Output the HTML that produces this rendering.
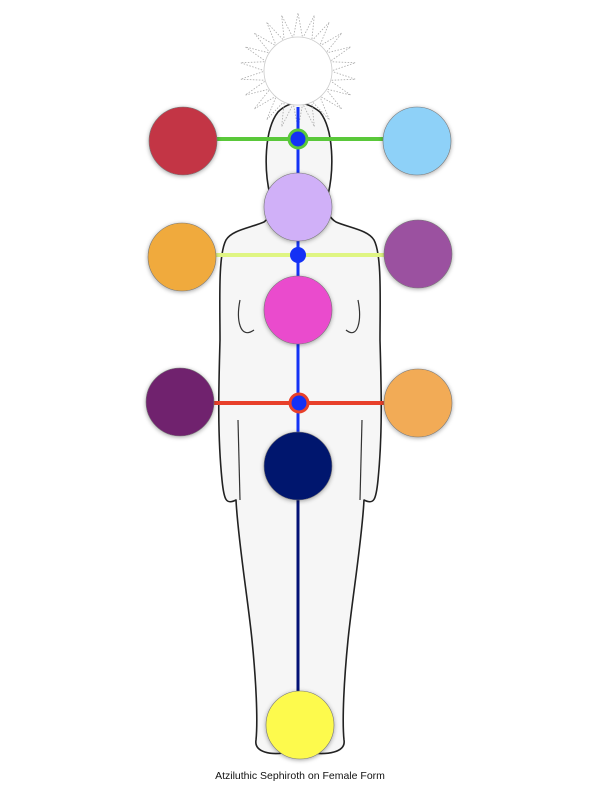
<!DOCTYPE html>
<html><head><style>
html,body{margin:0;padding:0;background:#fff;width:600px;height:800px;overflow:hidden}
</style></head><body>
<svg width="600" height="800" viewBox="0 0 600 800" xmlns="http://www.w3.org/2000/svg">
<defs>
<filter id="sh" x="-30%" y="-30%" width="160%" height="160%"><feDropShadow dx="0" dy="1" stdDeviation="2" flood-opacity="0.35"/></filter>
<path id="ray" d="M293.3,38.3 L298,13 L302.7,38.3" fill="none" stroke="#aaa" stroke-width="0.8" stroke-dasharray="1.5,1.5"/>
</defs>
<!-- body silhouette -->
<g fill="#f6f6f6" stroke="#222" stroke-width="1.6" stroke-linejoin="round">
<path d="M264,222 C250,228 232,230 226,240 C218,255 220,300 220,340 C219,380 217,430 222,480 C224,500 226,505 236,500 C238,540 248,600 252,640 C256,680 258,720 256,740 C254,752 270,756 290,752 L298,700 L306,752 C328,756 346,752 344,740 C342,720 344,680 348,640 C352,600 362,540 364,500 C374,505 376,500 378,480 C383,430 381,380 380,340 C380,300 382,255 374,240 C368,230 350,228 336,222 C326,216 326,205 328,195 C334,170 334,130 320,112 C305,100 290,100 278,112 C264,130 264,170 270,195 C272,205 272,216 264,222 Z"/>
</g>
<g fill="none" stroke="#333" stroke-width="1.2">
<path d="M240,300 C236,320 240,340 254,330"/>
<path d="M358,300 C362,320 358,340 346,330"/>
<path d="M238,420 L240,500"/><path d="M362,420 L360,500"/>
</g>
<!-- sun -->
<g>
<use href="#ray" transform="rotate(0 298 71)"/>
<use href="#ray" transform="rotate(16.36 298 71)"/>
<use href="#ray" transform="rotate(32.73 298 71)"/>
<use href="#ray" transform="rotate(49.09 298 71)"/>
<use href="#ray" transform="rotate(65.45 298 71)"/>
<use href="#ray" transform="rotate(81.82 298 71)"/>
<use href="#ray" transform="rotate(98.18 298 71)"/>
<use href="#ray" transform="rotate(114.55 298 71)"/>
<use href="#ray" transform="rotate(130.91 298 71)"/>
<use href="#ray" transform="rotate(147.27 298 71)"/>
<use href="#ray" transform="rotate(163.64 298 71)"/>
<use href="#ray" transform="rotate(180 298 71)"/>
<use href="#ray" transform="rotate(196.36 298 71)"/>
<use href="#ray" transform="rotate(212.73 298 71)"/>
<use href="#ray" transform="rotate(229.09 298 71)"/>
<use href="#ray" transform="rotate(245.45 298 71)"/>
<use href="#ray" transform="rotate(261.82 298 71)"/>
<use href="#ray" transform="rotate(278.18 298 71)"/>
<use href="#ray" transform="rotate(294.55 298 71)"/>
<use href="#ray" transform="rotate(310.91 298 71)"/>
<use href="#ray" transform="rotate(327.27 298 71)"/>
<use href="#ray" transform="rotate(343.64 298 71)"/>
<circle cx="298" cy="71" r="34" fill="#fff" stroke="#ccc" stroke-width="0.8"/>
</g>
<!-- lines -->
<line x1="298" y1="107" x2="298" y2="432" stroke="#1433f5" stroke-width="3"/>
<line x1="298" y1="466" x2="298" y2="700" stroke="#031175" stroke-width="3"/>
<line x1="215" y1="139" x2="385" y2="139" stroke="#5ac83a" stroke-width="4"/>
<line x1="215" y1="255" x2="385" y2="255" stroke="#dff582" stroke-width="4"/>
<line x1="213" y1="403" x2="386" y2="403" stroke="#e8402a" stroke-width="4"/>
<!-- circles -->
<g filter="url(#sh)" stroke="#777" stroke-width="0.6">
<circle cx="183" cy="141" r="34" fill="#c33444"/>
<circle cx="417" cy="141" r="34" fill="#8ed1f8"/>
<circle cx="298" cy="207" r="34" fill="#d0b0f8"/>
<circle cx="182" cy="257" r="34" fill="#f0aa3c"/>
<circle cx="418" cy="254" r="34" fill="#9b51a0"/>
<circle cx="298" cy="310" r="34" fill="#ea4bcd"/>
<circle cx="180" cy="402" r="34" fill="#70216e"/>
<circle cx="418" cy="403" r="34" fill="#f2ab57"/>
<circle cx="298" cy="466" r="34" fill="#04146e"/>
<circle cx="300" cy="725" r="34" fill="#fdfa4e"/>
</g>
<circle cx="298" cy="139" r="9" fill="#1431f5" stroke="#5ac83a" stroke-width="3"/>
<circle cx="298" cy="255" r="8" fill="#1431f5"/>
<circle cx="299" cy="403" r="9" fill="#1431f5" stroke="#e8402a" stroke-width="3"/>
<text x="300" y="779" text-anchor="middle" font-family="Liberation Sans, sans-serif" font-size="10.5" fill="#111">Atziluthic Sephiroth on Female Form</text>
</svg>
</body></html>
